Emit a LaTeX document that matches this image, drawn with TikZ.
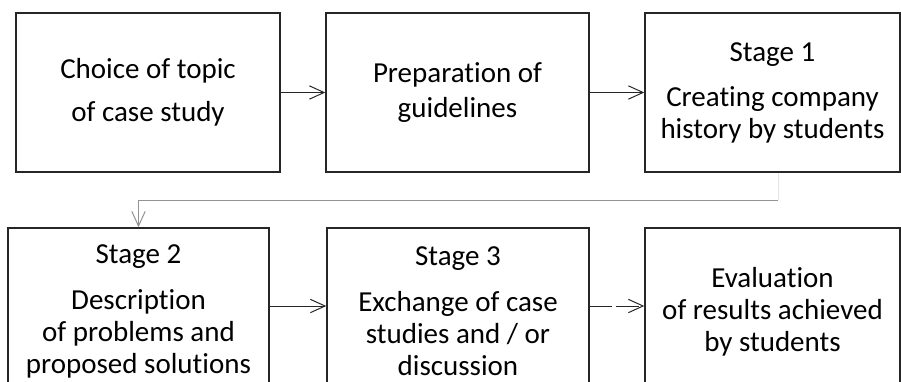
\documentclass[tikz,border=0pt]{standalone}
\usepackage{fontspec}
\setmainfont[Ligatures=NoCommon]{Carlito}
\usetikzlibrary{arrows.meta}

\tikzset{
	stagebox/.style={draw=black!85, line width=1.1pt, minimum width=#1, minimum height=119.25pt,
		align=center, inner sep=0pt, font=\fontsize{21.75}{24}\selectfont},
	lowbox/.style={stagebox=#1, minimum height=125.25pt},
	flow/.style={-{Straight Barb[length=11pt,width=10pt]}, line width=0.75pt, draw=black!85},
}

\begin{document}
\begin{tikzpicture}[x=0.75pt,y=-0.75pt]
		\useasboundingbox (0,0) rectangle (901,382);
		\clip (0,0) rectangle (901,382);
		%Row 1
		\node[stagebox=198pt] (choice) at (148,92.5) {Choice of topic\\[8.25pt]of case study};
		\node[stagebox=197.25pt] (guide) at (457.5,92.5) {Preparation of\\[2.25pt]guidelines};
		\node[stagebox=191.25pt] (story) at (772.5,92.5) {Stage 1\\[9.75pt]Creating company\\history by students};
		\draw[flow] (choice) -- (guide);
		\draw[flow] (guide) -- (story);
		%Row 2
		\node[lowbox=195.75pt] (describe) at (138.5,311.5) {Stage 2\\[10.5pt]Description\\of problems and\\proposed solutions};
		\node[lowbox=196.5pt] (exchange) at (458,311.5) {Stage 3\\[10.5pt]Exchange of case\\studies and / or\\discussion};
		\node[lowbox=191.25pt] (evaluate) at (772.5,311.5) {Evaluation\\of results achieved\\by students};
		\draw[flow] (describe.east |- 0,306) -- (exchange.west |- 0,306);
		\draw[flow, dash pattern=on 17pt off 3pt] (exchange.east |- 0,306) -- (evaluate.west |- 0,306);
		%Row 1 to row 2
		\coordinate (bend) at (778,200);
		\draw[gray!20, line width=0.75pt] (bend |- story.south) -- (bend);
		\draw[flow, draw=gray!85] (bend) -| (describe.north);
\end{tikzpicture}
\end{document}
